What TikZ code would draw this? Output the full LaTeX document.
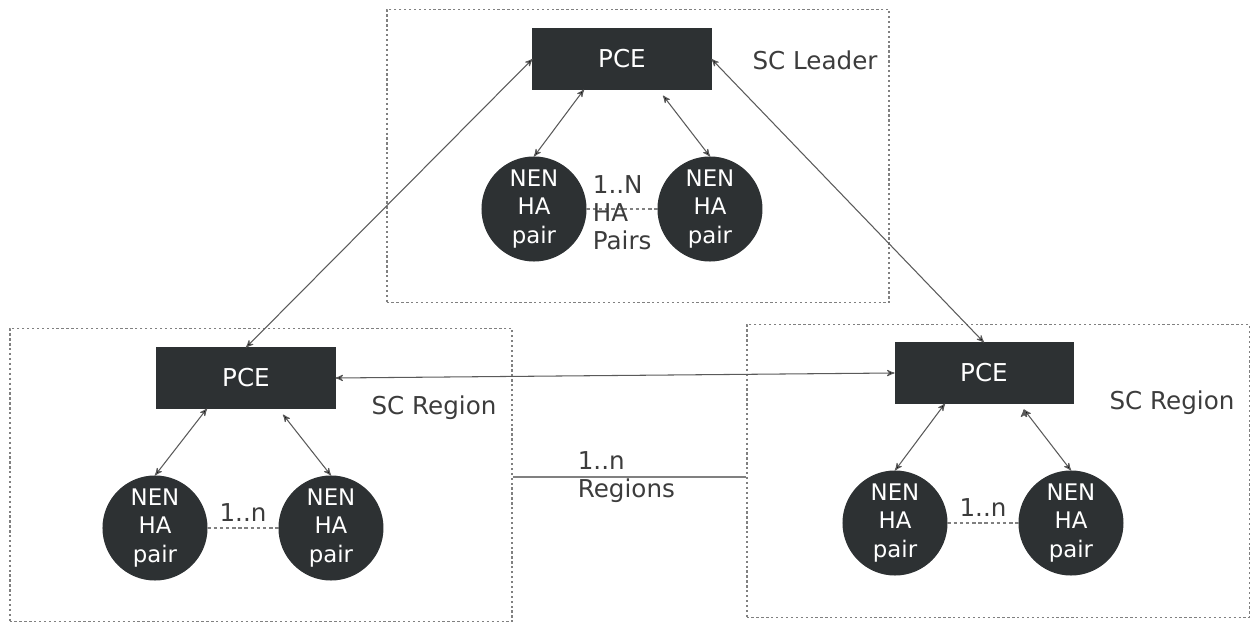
\documentclass[tikz,border=0pt]{standalone}
\usepackage{fontspec}
\setmainfont{DejaVu Sans}
\usepackage{tikz}
\usetikzlibrary{positioning}
\usetikzlibrary{shapes,arrows}
\definecolor{boxfill}{HTML}{2D3133}
\definecolor{linegray}{HTML}{5A5A5A}
\definecolor{dotgray}{HTML}{808080}
\definecolor{textgray}{HTML}{3C3C3C}

\begin{document}
\begin{tikzpicture}[<->, >=stealth', semithick, x=0.02cm, y=-0.02cm, node distance=3.52cm]
\tikzstyle{pce}=[rectangle,fill=boxfill,draw=boxfill,text=white,minimum width=3.56cm,minimum height=1.2cm,font=\fontsize{14}{17}\selectfont]
\tikzstyle{nen}=[circle,fill=boxfill,draw=boxfill,text=white,minimum size=2.08cm,inner sep=0pt,align=center,font=\fontsize{13}{16}\selectfont]
\tikzstyle{region}=[rectangle,draw=dotgray,dash pattern=on 1.3pt off 1.5pt,line width=1.1pt,minimum width=10.06cm,minimum height=5.86cm]
\tikzstyle{lbl}=[text=textgray,font=\fontsize{14}{16}\selectfont]
\tikzstyle{pairline}=[-,draw=dotgray,dash pattern=on 2pt off 1.5pt]
\tikzstyle{link}=[draw=linegray]
\useasboundingbox (0,0) rectangle (1250,624);

% regions
\node[region]   (leader)    at (638,156)    {};
\node[region]   (west)      at (261,475)    {};
\node[region]   (east)      at (998,471)    {};

\node[pce]      (tpce)      at (622,59)     {PCE};
\node[pce]      (wpce)      at (246,378)    {PCE};
\node[pce]      (epce)      at (984,373)    {PCE};

\node[nen]      (t1)        at (534,209)    {NEN\\HA\\pair};
\node[nen]      (t2)[right of = t1]         {NEN\\HA\\pair};
\node[nen]      (w1)        at (155,528)    {NEN\\HA\\pair};
\node[nen]      (w2)[right of = w1]         {NEN\\HA\\pair};
\node[nen]      (e1)        at (895,523)    {NEN\\HA\\pair};
\node[nen]      (e2)[right of = e1]         {NEN\\HA\\pair};

\node[lbl]      (lead)      at (815,60)     {SC Leader};
\node[lbl]      (wreg)      at (434,408)    {SC Region};
\node[lbl]      (ereg)      at (1172,403)   {SC Region};

\path[link]
(wpce.north) edge (tpce.west)
(epce.north) edge (tpce.east)
(wpce.east)  edge (epce.west)
([xshift=-0.76cm]tpce.south)              edge (t1.north)
([xshift=0.82cm,yshift=-0.12cm]tpce.south) edge (t2.north)
([xshift=-0.78cm]wpce.south)              edge (w1.north)
([xshift=0.74cm,yshift=-0.12cm]wpce.south) edge (w2.north)
([xshift=-0.78cm]epce.south)              edge (e1.north)
([xshift=0.8cm,yshift=-0.12cm]epce.south)  edge (e2.north)
;

\draw[pairline] (t1) -- node[lbl, pos=0, anchor=west, align=left, yshift=-2pt] {1..N\\HA\\Pairs} (t2);
\draw[pairline] (w1) -- node[lbl, above] {1..n} (w2);
\draw[pairline] (e1) -- node[lbl, above] {1..n} (e2);
\draw[link, -, draw=dotgray] (west.east |- 0,477) -- node[lbl, pos=0.25, anchor=west, align=left] {1..n\\Regions} (east.west |- 0,477);
\end{tikzpicture}
\end{document}
